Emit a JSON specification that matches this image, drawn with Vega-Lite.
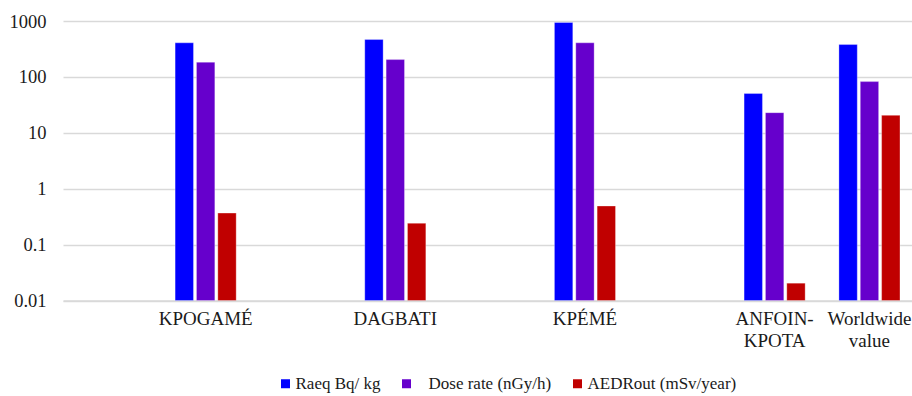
{
  "$schema": "https://vega.github.io/schema/vega-lite/v6.json",
  "autosize": {"type": "none"},
  "padding": {"left": 63, "top": 21, "right": 0, "bottom": 95},
  "width": 849,
  "height": 279.5,
  "background": "white",
  "data": {"values": [
    {"site": "KPOGAMÉ", "series": "Raeq Bq/ kg", "value": 407},
    {"site": "KPOGAMÉ", "series": "Dose rate (nGy/h)", "value": 183},
    {"site": "KPOGAMÉ", "series": "AEDRout (mSv/year)", "value": 0.366},
    {"site": "DAGBATI", "series": "Raeq Bq/ kg", "value": 466},
    {"site": "DAGBATI", "series": "Dose rate (nGy/h)", "value": 204},
    {"site": "DAGBATI", "series": "AEDRout (mSv/year)", "value": 0.241},
    {"site": "KPÉMÉ", "series": "Raeq Bq/ kg", "value": 940},
    {"site": "KPÉMÉ", "series": "Dose rate (nGy/h)", "value": 407},
    {"site": "KPÉMÉ", "series": "AEDRout (mSv/year)", "value": 0.49},
    {"site": "ANFOIN-KPOTA", "series": "Raeq Bq/ kg", "value": 50.4},
    {"site": "ANFOIN-KPOTA", "series": "Dose rate (nGy/h)", "value": 22.9},
    {"site": "ANFOIN-KPOTA", "series": "AEDRout (mSv/year)", "value": 0.0204},
    {"site": "Worldwide value", "series": "Raeq Bq/ kg", "value": 379},
    {"site": "Worldwide value", "series": "Dose rate (nGy/h)", "value": 82.4},
    {"site": "Worldwide value", "series": "AEDRout (mSv/year)", "value": 20.5}
  ]},
  "mark": {"type": "bar", "stroke": "white", "strokeWidth": 0.5, "strokeOpacity": 0.6},
  "encoding": {
    "x": {
      "field": "site", "type": "nominal",
      "scale": {
        "domain": ["_0", "KPOGAMÉ", "_2", "DAGBATI", "_4", "KPÉMÉ", "_6", "ANFOIN-KPOTA", "Worldwide value"],
        "paddingInner": 0.356, "paddingOuter": 0.1545, "align": 0.59
      },
      "axis": {
        "title": null, "ticks": false, "labelAngle": 0,
        "domainColor": "#d9d9d9", "domainWidth": 1.5,
        "labelFont": "Liberation Serif", "labelFontSize": 19, "labelColor": "#1a1a1a",
        "labelPadding": 9, "labelLineHeight": 22, "labelBaseline": "top",
        "labelExpr": "datum.value == 'ANFOIN-KPOTA' ? ['ANFOIN-', 'KPOTA'] : datum.value == 'Worldwide value' ? ['Worldwide', 'value'] : (indexof(datum.value, '_') == 0 ? '' : datum.value)"
      }
    },
    "xOffset": {
      "field": "series", "type": "nominal",
      "sort": ["Raeq Bq/ kg", "Dose rate (nGy/h)", "AEDRout (mSv/year)"],
      "scale": {"paddingInner": 0.14, "paddingOuter": 0}
    },
    "y": {
      "field": "value", "type": "quantitative", "stack": null,
      "scale": {"type": "log", "domain": [0.01, 1000], "nice": false},
      "axis": {
        "title": null, "values": [0.01, 0.1, 1, 10, 100, 1000], "format": "~g",
        "ticks": false, "domain": false,
        "gridColor": "#d9d9d9", "gridWidth": 1.5,
        "labelFont": "Liberation Serif", "labelFontSize": 18.5, "labelColor": "#1a1a1a",
        "labelPadding": 17
      }
    },
    "color": {
      "field": "series", "type": "nominal",
      "sort": ["Raeq Bq/ kg", "Dose rate (nGy/h)", "AEDRout (mSv/year)"],
      "scale": {
        "domain": ["Raeq Bq/ kg", "Dose rate (nGy/h)", "AEDRout (mSv/year)"],
        "range": ["#0000ff", "#6600cc", "#c00000"]
      },
      "legend": {
        "title": null, "orient": "none", "direction": "horizontal",
        "legendX": 214, "legendY": 354,
        "symbolType": "square", "symbolSize": 81, "symbolStrokeWidth": 0,
        "labelFont": "Liberation Serif", "labelFontSize": 17, "labelColor": "#1a1a1a",
        "labelOffset": 1.5, "columnPadding": 17, "labelLimit": 300,
        "labelExpr": "indexof(datum.label, 'Dose') >= 0 ? '\u2800' + datum.label : datum.label"
      }
    }
  },
  "config": {"view": {"stroke": null}}
}
